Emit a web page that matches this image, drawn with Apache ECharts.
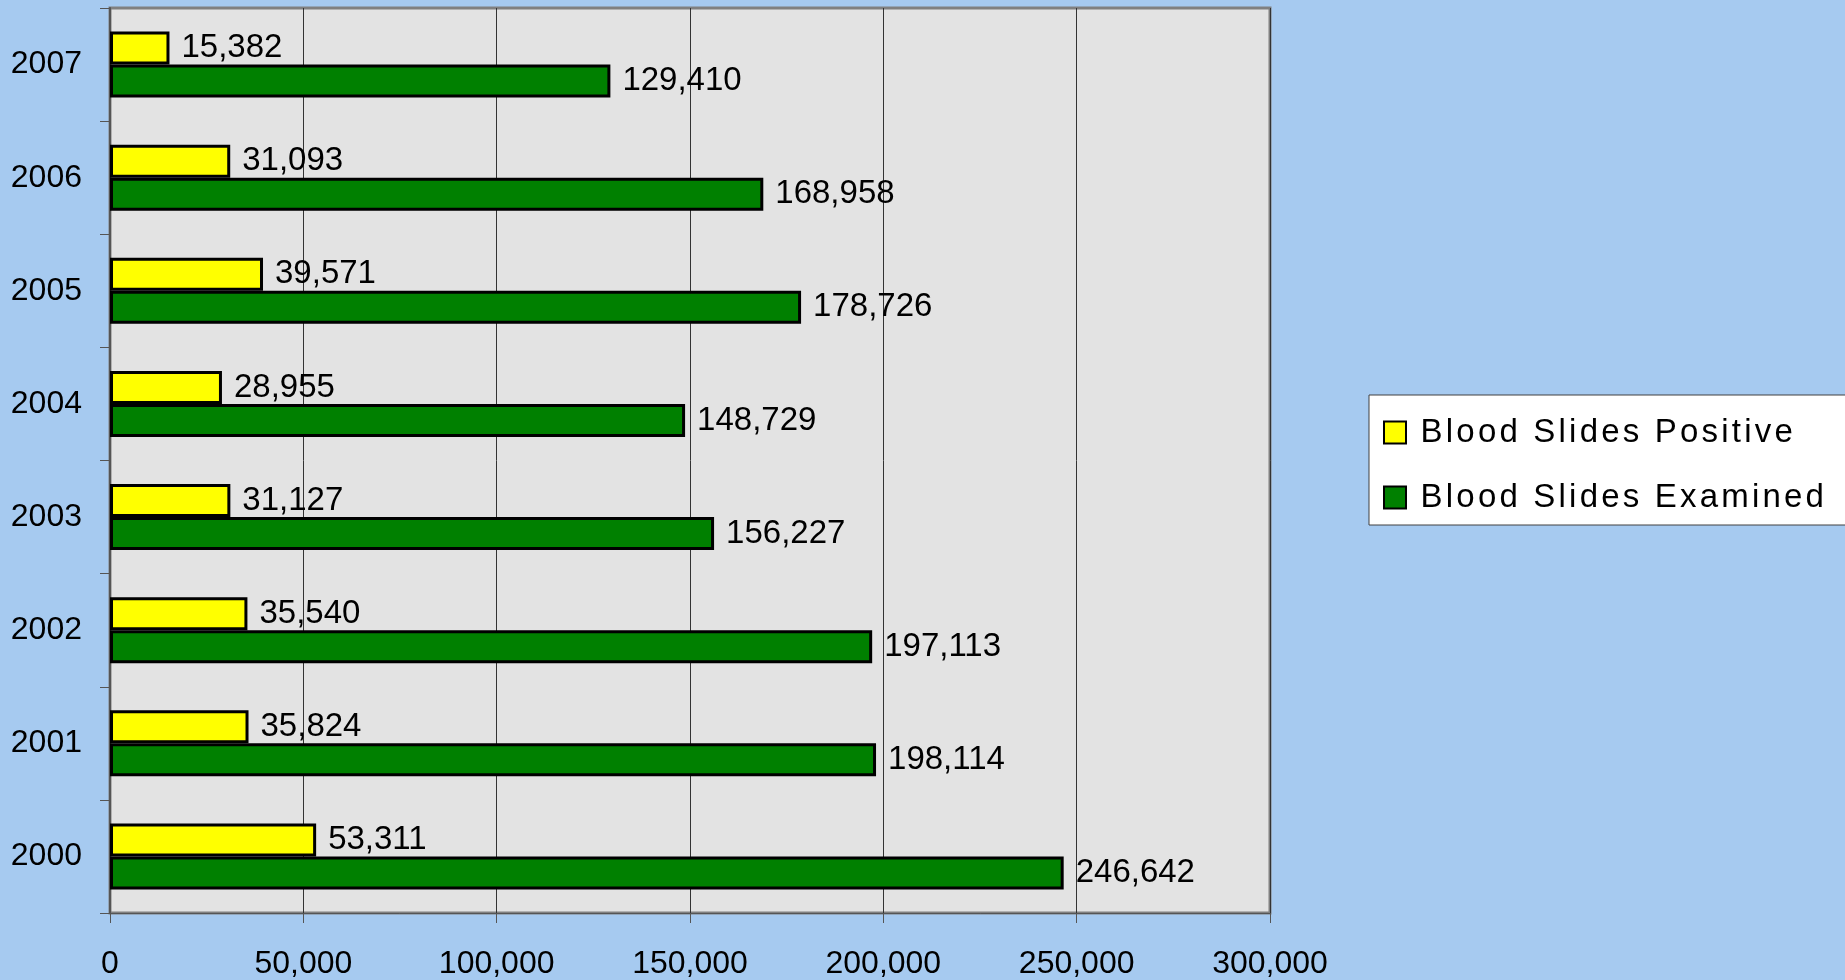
<!DOCTYPE html>
<html>
<head>
<meta charset="utf-8">
<script src="https://cdn.jsdelivr.net/npm/echarts@6/dist/echarts.min.js"></script>
<style>
html,body{margin:0;padding:0;background:#a6caf0;}
#chart{width:1845px;height:980px;}
</style>
</head>
<body>
<div id="chart"></div>
<script>
const years = ['2000','2001','2002','2003','2004','2005','2006','2007'];
const positive = [53311, 35824, 35540, 31127, 28955, 39571, 31093, 15382];
const examined = [246642, 198114, 197113, 156227, 148729, 178726, 168958, 129410];
const seriesNames = ['Blood Slides Positive', 'Blood Slides Examined'];

const font = 'Liberation Sans, Arial, sans-serif';
const chart = echarts.init(document.getElementById('chart'));
const labelCfg = {
  show: true,
  position: 'right',
  distance: 12,
  color: '#000',
  fontSize: 33,
  fontFamily: font,
  formatter: p => p.value.toLocaleString('en-US')
};
chart.setOption({
  backgroundColor: '#a6caf0',
  animation: false,
  grid: {
    left: 110, right: 575, top: 8, bottom: 67,
    show: true,
    backgroundColor: '#e3e3e3',
    borderColor: '#808080',
    borderWidth: 3
  },
  legend: {
    data: seriesNames,
    orient: 'vertical',
    left: 1369, top: 395,
    width: 480,
    padding: [21, 100, 11, 14],
    itemGap: 32,
    itemWidth: 22, itemHeight: 22,
    backgroundColor: '#ffffff',
    borderColor: '#404040',
    borderWidth: 1,
    borderRadius: 0,
    icon: 'rect',
    itemStyle: { borderColor: '#000', borderWidth: 2 },
    formatter: name => name.split('').map(c => '{s|' + c + '}').join(''),
    textStyle: {
      fontSize: 33, fontFamily: font, color: '#000', padding: [0, 0, 0, 8],
      rich: { s: { fontSize: 33, fontFamily: font, color: '#000', padding: [0, 1.6, 0, 1.6] } }
    }
  },
  xAxis: {
    type: 'value',
    min: 0, max: 300000, interval: 50000,
    axisLine: { show: true, lineStyle: { color: '#555', width: 1 } },
    axisTick: { show: true, length: 10, lineStyle: { color: '#555' } },
    axisLabel: {
      fontSize: 32, fontFamily: font, color: '#000', margin: 35,
      formatter: v => v.toLocaleString('en-US')
    },
    splitLine: { show: true, lineStyle: { color: '#333', width: 1 } }
  },
  yAxis: {
    type: 'category',
    data: years,
    axisLine: { show: true, lineStyle: { color: '#555', width: 2 } },
    axisTick: { show: true, length: 10, alignWithLabel: false, lineStyle: { color: '#555' } },
    axisLabel: { fontSize: 32, fontFamily: font, color: '#000', margin: 28 },
    splitLine: { show: false }
  },
  series: [
    {
      name: seriesNames[0],
      type: 'bar',
      data: positive,
      barWidth: 33,
      barGap: '0%',
      itemStyle: { color: '#ffff00', borderColor: '#000', borderWidth: 3 },
      label: labelCfg
    },
    {
      name: seriesNames[1],
      type: 'bar',
      data: examined,
      barWidth: 33,
      barGap: '0%',
      itemStyle: { color: '#008000', borderColor: '#000', borderWidth: 3 },
      label: labelCfg
    }
  ]
});
</script>
</body>
</html>
